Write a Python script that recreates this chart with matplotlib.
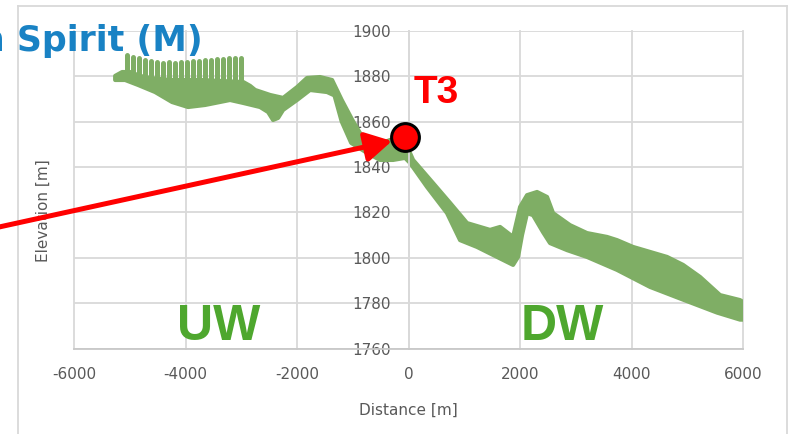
import numpy as np
import matplotlib
matplotlib.use("Agg")
import matplotlib.pyplot as plt
from matplotlib.lines import Line2D

plt.rcParams["axes.unicode_minus"] = False

# ---------------- data ----------------
x_ticks = [-6000, -4000, -2000, 0, 2000, 4000, 6000]
y_ticks = [1760, 1780, 1800, 1820, 1840, 1860, 1880, 1900]

# upper edge of the band of profiles
upper_dist = [-5262, -5137, -4994, -4814, -4636, -4278, -3740, -2965, -2842, -2752,
              -2483, -2250, -1999, -1822, -1588, -1373, -1200, -1010, -830, -650,
              -333, 0, 79, 438, 742, 1047, 1459, 1639, 1872, 1998, 2123, 2302,
              2481, 2589, 2893, 3198, 3557, 3736, 4023, 4328, 4633, 4920, 5224,
              5583, 5941, 6000]
upper_elev = [1880.1, 1881.8, 1881.8, 1880.1, 1879.2, 1878.3, 1878.3, 1877.4, 1875.7, 1873.9,
              1871.7, 1870.4, 1875.2, 1879.2, 1879.6, 1878.3, 1869.5, 1860.7, 1853.2, 1848.8,
              1851.9, 1847.5, 1843.1, 1832.9, 1824.2, 1815.3, 1812.3, 1813.6, 1809.2, 1822.4,
              1827.6, 1829.0, 1826.8, 1819.7, 1814.4, 1810.9, 1809.2, 1807.8, 1804.8, 1802.6,
              1800.4, 1796.9, 1791.6, 1783.6, 1781.4, 1780.5]

# lower edge of the band of profiles
lower_dist = [-5262, -5083, -4850, -4546, -4242, -3955, -3650, -3202, -2967, -2664,
              -2520, -2431, -2341, -2252, -2001, -1768, -1463, -1330, -1200, -1030,
              -746, -513, -280, -65, 25, 330, 688, 922, 1226, 1585, 1872, 1961,
              2033, 2123, 2230, 2410, 2535, 2840, 3198, 3736, 4328, 4920, 5529,
              5941, 6000]
lower_elev = [1878.3, 1878.3, 1876.1, 1873.0, 1868.6, 1866.4, 1867.3, 1869.5, 1868.2, 1866.4,
              1864.2, 1860.7, 1861.6, 1865.1, 1869.5, 1873.9, 1873.0, 1871.5, 1860.0, 1850.6,
              1846.2, 1843.1, 1843.1, 1844.0, 1841.8, 1831.2, 1819.7, 1807.8, 1804.8, 1800.4,
              1796.9, 1800.4, 1810.1, 1819.7, 1818.8, 1811.3, 1806.5, 1803.4, 1800.4, 1794.7,
              1787.2, 1781.6, 1775.9, 1772.8, 1772.8]

# upstream "spikes" of the individual profiles
spike_dist = [-5048, -4941, -4833, -4726, -4618, -4511, -4403, -4296, -4188, -4080,
              -3973, -3865, -3758, -3650, -3543, -3435, -3328, -3220, -3112, -3005]
spike_top = [1889.3, 1888.4, 1888.0, 1887.1, 1886.7, 1886.2, 1885.8, 1886.2, 1885.8, 1886.2,
             1886.2, 1886.7, 1886.7, 1887.1, 1887.1, 1887.5, 1887.5, 1888.0, 1888.0, 1888.0]
spike_base = [1880.5, 1880.5, 1880.0, 1879.5, 1879.0, 1878.5, 1878.5, 1878.3, 1878.3, 1878.3,
              1878.3, 1878.3, 1878.3, 1878.0, 1878.0, 1878.0, 1877.8, 1877.6, 1877.5, 1877.4]

t3_dist = [-60]
t3_elev = [1853.0]

# ---------------- figure ----------------
W, H = 795, 434
fig = plt.figure(figsize=(W / 100, H / 100), dpi=100)
fig.patch.set_facecolor("white")

ax = fig.add_axes([74 / W, 1 - 348.7 / H, 669.3 / W, 318 / H])
ax.set_xlim(x_ticks[0], x_ticks[-1])
ax.set_ylim(y_ticks[0], y_ticks[-1])
ax.set_xticks(x_ticks)
ax.set_yticks(y_ticks)

grid_c = "#d9d9d9"
txt_c = "#595959"
ax.grid(True, color=grid_c, lw=1.3, zorder=0)
ax.set_axisbelow(True)
for gl in ax.get_xgridlines() + ax.get_ygridlines():
    gl.set_clip_on(False)
for s in ["top", "right"]:
    ax.spines[s].set_visible(False)
ax.spines["left"].set_position(("data", 0))
ax.spines["left"].set_color(grid_c)
ax.spines["left"].set_linewidth(1.3)
ax.spines["bottom"].set_color("#c8c8c8")
ax.spines["bottom"].set_linewidth(1.3)
ax.tick_params(axis="both", length=0, labelsize=11, labelcolor=txt_c)
ax.tick_params(axis="y", pad=13)
ax.tick_params(axis="x", pad=13)

band_c = "#7FAE65"
poly_x = np.concatenate([upper_dist, lower_dist[::-1]])
poly_y = np.concatenate([upper_elev, lower_elev[::-1]])
ax.fill(poly_x, poly_y, color=band_c, lw=3.0, joinstyle="round", zorder=2)
ax.vlines(spike_dist, spike_base, spike_top, color=band_c, lw=3.6,
          capstyle="round", zorder=2)

ax.plot(t3_dist, t3_elev, "o", ms=20, mfc="#ff0000", mec="black", mew=2.2, zorder=5,
        clip_on=False)

# text annotations
bold_fam = ["Liberation Sans", "DejaVu Sans"]
ax.text(0.541, 0.772, "T3", transform=ax.transAxes, color="#ff0000", fontsize=28,
        fontweight="bold", family=bold_fam, ha="center", va="baseline", zorder=6)
ax.text(0.2166, 0.027, "UW", transform=ax.transAxes, color="#4EA72E", fontsize=36,
        fontweight="bold", family=bold_fam, ha="center", va="baseline", zorder=6)
ax.text(0.729, 0.027, "DW", transform=ax.transAxes, color="#4EA72E", fontsize=36,
        fontweight="bold", family=bold_fam, ha="center", va="baseline", zorder=6)

fig.text(43 / W, 1 - 211 / H, "Elevation [m]", rotation=90, ha="center", va="center",
         fontsize=11, color=txt_c)
fig.text(408 / W, 1 - 410 / H, "Distance [m]", ha="center", va="center",
         fontsize=11, color=txt_c)

# title fragment (cut by the left edge, as in the source slide)
fig.text(203 / W, 1 - 51 / H, "n Spirit (M)", ha="right", va="baseline",
         fontsize=25, fontweight="bold", color="#1982C4")

# red arrow pointing to T3
fig.patches.append(matplotlib.patches.FancyArrowPatch(
    (-10 / W, 1 - 229 / H), (392 / W, 1 - 141 / H), transform=fig.transFigure,
    arrowstyle="-|>,head_length=0.8,head_width=0.45", mutation_scale=20,
    color="#ff0000", lw=3.6, shrinkA=0, shrinkB=0, zorder=10))

# chart-area border
bc = "#d9d9d9"
fig.add_artist(Line2D([18 / W, 18 / W], [0, 1 - 6 / H], color=bc, lw=1.3, transform=fig.transFigure))
fig.add_artist(Line2D([18 / W, 787 / W], [1 - 6 / H, 1 - 6 / H], color=bc, lw=1.3, transform=fig.transFigure))
fig.add_artist(Line2D([787 / W, 787 / W], [0, 1 - 6 / H], color=bc, lw=1.3, transform=fig.transFigure))

fig.savefig("out.png", dpi=100)
